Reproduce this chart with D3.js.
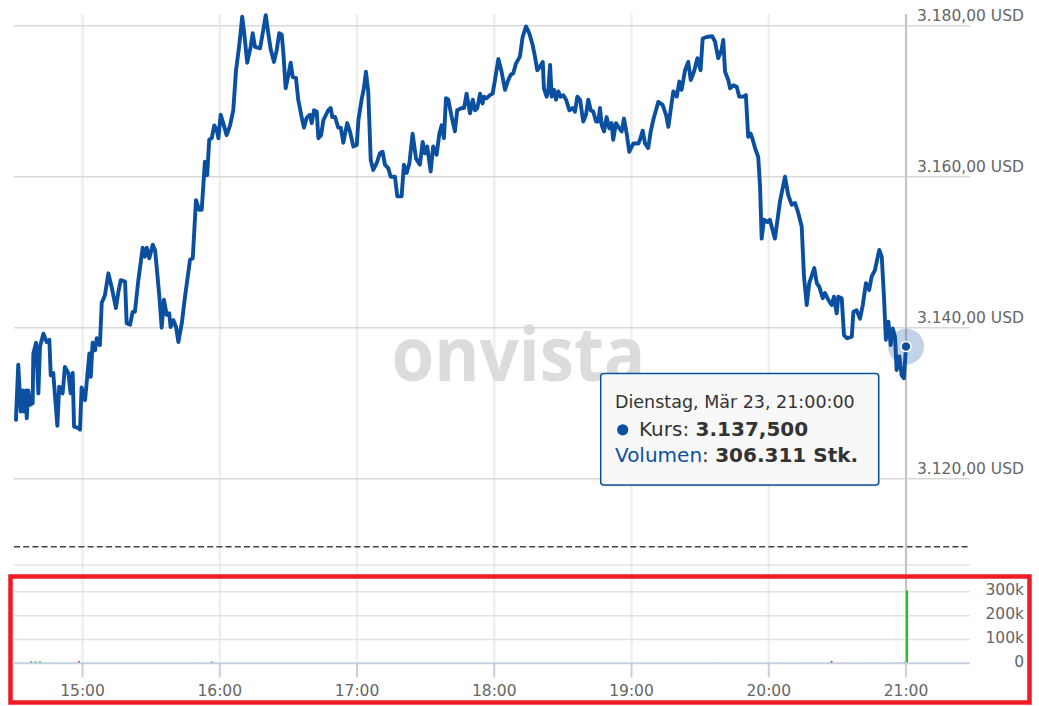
<!DOCTYPE html>
<html><head><meta charset="utf-8">
<script src="https://cdn.jsdelivr.net/npm/d3@7"></script>
<style>html,body{margin:0;padding:0;background:#fff}svg{display:block}</style>
</head><body>
<svg id="chart" width="1039" height="706"></svg>
<script>
// ---------- data ----------
const sessionStart = "2021-03-23T14:30:00";      // minutes below are counted from here
const minutes = [0.9,1.9,3.0,3.8,4.4,5.3,5.6,6.3,7.0,8.2,8.5,9.7,10.7,11.4,12.9,14.3,15.5,16.1,17.2,19.0,
19.8,21.3,22.3,23.8,24.8,25.7,26.3,28.2,28.9,29.6,31.1,33.0,33.6,34.4,35.5,36.2,37.6,38.4,39.8,41.3,
42.8,44.6,45.6,46.7,48.6,49.3,50.8,51.9,52.9,54.4,56.3,57.3,58.1,59.2,60.7,61.7,62.4,63.6,64.6,65.6,
66.8,67.9,68.5,69.7,70.9,71.9,73.4,74.8,76.2,77.0,78.2,79.6,81.0,82.1,83.5,84.5,85.4,86.5,87.6,88.7,
89.4,90.4,91.5,93.0,94.5,95.9,97.1,98.1,99.1,99.8,100.7,102.0,103.5,104.4,105.4,107.6,109.0,110.1,111.2,112.3,
113.7,114.9,116.0,117.1,117.8,118.8,120.0,121.0,121.9,123.3,124.3,125.8,126.8,128.0,129.4,130.2,131.2,132.4,133.1,134.3,
135.3,137.4,138.5,139.2,140.4,141.8,142.9,144.0,145.7,146.9,148.4,149.9,150.6,152.0,153.0,153.9,154.9,156.0,157.1,158.6,
160.0,161.2,162.2,163.7,164.7,166.6,167.6,169.5,170.5,171.7,172.9,174.3,175.8,177.5,178.7,179.7,180.7,182.2,183.3,184.8,
186.0,187.0,188.0,188.9,189.9,191.4,192.8,193.8,195.8,196.8,197.9,199.4,200.6,201.6,202.6,203.8,204.9,205.5,206.7,208.1,
209.3,210.3,211.8,213.2,214.7,216.1,217.2,218.3,219.5,221.2,222.4,223.9,225.3,226.8,227.8,228.8,230.0,231.2,231.7,232.9,
233.6,234.4,235.1,236.1,237.0,238.0,239.0,240.2,241.4,242.8,244.3,245.3,246.3,247.5,248.9,250.1,251.1,252.2,253.3,254.5,
255.5,256.2,257.0,258.0,259.1,260.3,261.3,262.0,263.2,264.2,265.7,266.7,267.9,269.0,270.8,273.0,273.7,274.9,275.9,277.3,
278.4,279.5,281.7,283.6,285.1,286.1,287.6,288.3,289.8,290.9,291.9,293.4,294.8,295.9,297.3,298.8,300.2,301.1,302.9,305.3,
306.5,307.9,309.4,310.1,310.9,312.3,313.1,314.5,316.0,317.1,318.9,320.0,321.0,322.1,323.0,324.0,325.4,326.2,326.9,327.9,
329.4,330.5,331.7,332.7,334.9,337.1,338.5,340.0,341.5,342.9,344.4,345.4,346.6,347.7,349.9,351.0,352.1,353.6,354.6,356.0,
357.5,358.5,359.7,360.4,361.9,362.9,364.3,366.3,367.0,368.4,369.9,371.1,372.5,373.9,375.0,376.4,378.3,379.4,380.4,381.2,
382.3,383.3,384.2,385.2,385.9,387.1,388.1,389.1,390.0];
const prices = [3127.8,3135.1,3128.9,3131.7,3128.9,3131.7,3128.0,3131.7,3129.8,3130.0,3136.6,3138.0,3131.3,3137.5,3139.2,3138.1,3138.4,3133.7,3134.0,3127.0,
3132.2,3131.3,3134.8,3134.0,3131.3,3134.0,3126.9,3126.7,3126.5,3132.1,3130.4,3136.6,3133.5,3138.0,3137.0,3138.6,3137.7,3143.3,3144.3,3147.2,
3145.3,3142.6,3144.6,3146.3,3146.1,3140.6,3140.4,3142.1,3142.1,3146.3,3150.6,3149.4,3150.6,3149.2,3151.0,3150.3,3148.1,3144.1,3140.0,3143.7,
3141.7,3141.9,3140.1,3141.0,3140.1,3138.1,3140.6,3144.1,3147.2,3149.0,3149.2,3156.9,3155.6,3155.6,3162.0,3160.2,3164.9,3165.1,3166.8,3166.2,
3165.1,3168.2,3167.1,3165.5,3166.8,3168.8,3174.1,3176.4,3179.0,3181.2,3179.0,3175.1,3177.2,3179.0,3177.2,3177.0,3179.4,3181.4,3179.0,3176.8,
3175.2,3176.8,3179.0,3178.8,3176.4,3171.7,3173.5,3175.1,3173.2,3173.1,3170.2,3167.9,3166.5,3167.8,3168.2,3167.1,3168.8,3168.6,3165.1,3165.5,
3167.5,3168.8,3169.1,3167.9,3167.9,3166.5,3166.5,3164.5,3167.1,3166.0,3164.0,3164.2,3167.5,3170.2,3171.7,3173.9,3171.3,3162.2,3160.9,3161.8,
3163.1,3163.3,3161.6,3161.1,3160.0,3160.0,3157.4,3157.4,3161.6,3160.5,3161.8,3165.7,3162.4,3161.6,3164.6,3163.1,3164.0,3160.7,3164.0,3162.9,
3165.7,3166.8,3165.1,3170.4,3170.2,3167.9,3166.0,3168.8,3169.1,3169.1,3171.0,3168.4,3170.2,3168.8,3169.1,3171.0,3169.7,3170.6,3170.4,3170.8,
3171.0,3172.8,3175.6,3173.9,3171.5,3172.8,3173.5,3173.7,3175.0,3175.9,3178.5,3179.9,3179.0,3177.4,3175.9,3174.1,3174.6,3175.2,3171.7,3170.6,
3171.3,3174.8,3170.6,3171.5,3170.2,3171.3,3170.6,3170.8,3170.2,3168.8,3169.1,3168.6,3170.6,3170.2,3167.3,3168.2,3170.2,3168.8,3168.6,3167.3,
3167.3,3169.1,3166.8,3166.0,3167.9,3166.4,3167.1,3164.9,3167.1,3166.6,3166.0,3167.7,3165.7,3163.3,3164.4,3164.4,3164.9,3166.1,3164.4,3163.8,
3166.0,3167.5,3169.9,3169.5,3168.2,3166.6,3169.9,3171.3,3170.6,3172.6,3171.5,3174.1,3175.2,3172.8,3173.9,3175.7,3174.1,3178.3,3178.5,3178.6,
3177.9,3175.7,3176.8,3178.1,3173.9,3172.8,3171.7,3172.1,3171.9,3170.6,3170.6,3170.8,3165.3,3165.7,3164.9,3163.8,3162.6,3158.7,3151.8,3154.3,
3154.0,3154.3,3152.9,3151.8,3156.7,3160.0,3157.6,3156.3,3156.5,3155.2,3153.4,3146.8,3143.0,3145.9,3147.9,3145.9,3145.4,3143.9,3144.6,3143.7,
3143.0,3144.1,3141.9,3144.1,3143.9,3139.0,3138.6,3138.8,3142.1,3142.3,3141.2,3143.0,3145.9,3145.0,3146.8,3147.6,3150.3,3149.4,3143.9,3138.4,
3140.8,3137.7,3139.9,3138.8,3134.4,3136.2,3133.7,3133.3,3137.5];

// volume bars (minutes after session start, shares, direction of the bar)
const volMinutes = [1,3,5,7,9,11,14,17,22,28,33,40,47,55,62,70,80,86,92,100,112,125,140,160,175,200,215,230,250,270,290,305,320,335,345,350,354,357,362,367,372,377,382,386,389,390];
const volumes    = [1800,1500,1600,8500,8200,8600,1500,1700,1400,8800,1500,1300,1200,1500,1300,1400,1500,8000,1400,1300,1200,1300,1200,1200,1300,1200,1300,1200,1300,1400,1300,1500,1300,1500,1600,1700,1500,9500,1600,1500,1600,1700,1800,1700,6000,306311];
const volUp      = [1,0,0,1,1,1,0,0,1,0,1,0,1,1,0,1,0,1,0,1,0,1,0,0,1,0,1,0,0,1,0,0,1,0,1,0,0,0,0,1,0,0,0,0,0,1];

const priceTicks  = [3120, 3140, 3160, 3180];
const previousClose = 3111.0;
const timeTickLabels = ["15:00","16:00","17:00","18:00","19:00","20:00","21:00"];
const volumeTicks = [0, 100000, 200000, 300000];
const volumeTickLabels = ["0","100k","200k","300k"];

const tooltipHeader = "Dienstag, Mär 23, 21:00:00";
const hoverMinute = 390, hoverPrice = 3137.5, hoverVolume = 306311;

// ---------- setup ----------
const de = d3.formatLocale({decimal: ",", thousands: ".", grouping: [3], currency: ["", " USD"]});
const fmtAxis = de.format(",.2f"), fmt3 = de.format(",.3f"), fmtInt = de.format(",d");
const t0 = new Date(sessionStart);
const toTime = m => new Date(t0.getTime() + m * 60000);
const parseHM = s => { const [h, mi] = s.split(":").map(Number); const d = new Date(t0); d.setHours(h, mi, 0, 0); return d; };

const plotLeft = 14, plotRight = 970, plotTop = 14;
const x = d3.scaleTime().domain([toTime(0), toTime(390)]).range([13.9, 906]);
const y = d3.scaleLinear().domain([3120, 3180]).range([478.7, 25.7]);
const yv = d3.scaleLinear().domain([0, 300000]).range([663.3, 591.8]);
const volTop = 565;

const svg = d3.select("#chart");
const FONT = "'DejaVu Sans', Verdana, sans-serif";
const blue = "#0b50a0";

// vertical grid lines
svg.append("g").selectAll("line").data(timeTickLabels).join("line")
  .attr("x1", d => x(parseHM(d))).attr("x2", d => x(parseHM(d)))
  .attr("y1", plotTop).attr("y2", yv(0))
  .attr("stroke", "#efefef").attr("stroke-width", 2.5);

// watermark
svg.append("text").text("onvista")
  .attr("x", 391.5).attr("y", 381).attr("textLength", 254).attr("lengthAdjust", "spacingAndGlyphs")
  .attr("font-family", "'Open Sans', sans-serif").attr("font-weight", 700).attr("font-size", 75)
  .attr("fill", "#dcdcdc");

// price grid lines + labels
const gp = svg.append("g");
gp.selectAll("line").data(priceTicks).join("line")
  .attr("x1", plotLeft).attr("x2", plotRight)
  .attr("y1", d => y(d)).attr("y2", d => y(d))
  .attr("stroke", "#d9d9d9").attr("stroke-width", 1.5);
gp.selectAll("text").data(priceTicks).join("text")
  .attr("x", 1024).attr("y", d => y(d) - 4.3).attr("text-anchor", "end")
  .attr("font-family", FONT).attr("font-size", 15.5).attr("fill", "#666")
  .text(d => fmtAxis(d) + " USD");

// previous close dashed line
svg.append("line").attr("x1", plotLeft).attr("x2", plotRight)
  .attr("y1", y(previousClose)).attr("y2", y(previousClose))
  .attr("stroke", "#444").attr("stroke-width", 1.5).attr("stroke-dasharray", "6,3.2");

// volume pane grid
svg.append("line").attr("x1", plotLeft).attr("x2", plotRight).attr("y1", volTop).attr("y2", volTop)
  .attr("stroke", "#e3e3e3").attr("stroke-width", 1.5);
const gv = svg.append("g");
gv.selectAll("line").data(volumeTicks.slice(1)).join("line")
  .attr("x1", plotLeft).attr("x2", plotRight)
  .attr("y1", d => yv(d)).attr("y2", d => yv(d))
  .attr("stroke", "#e1e1e1").attr("stroke-width", 1.5);
gv.selectAll("text").data(volumeTicks).join("text")
  .attr("x", 1024).attr("y", (d, i) => yv(d) + 3.6).attr("text-anchor", "end")
  .attr("font-family", FONT).attr("font-size", 15.5).attr("fill", "#666")
  .text((d, i) => volumeTickLabels[i]);

// crosshair
svg.append("line").attr("x1", x(toTime(hoverMinute))).attr("x2", x(toTime(hoverMinute)))
  .attr("y1", plotTop).attr("y2", yv(0))
  .attr("stroke", "#c4c4c4").attr("stroke-width", 2);

// volume bars
svg.append("g").selectAll("rect").data(volMinutes).join("rect")
  .attr("x", d => x(toTime(d))).attr("width", 2)
  .attr("y", (d, i) => yv(volumes[i])).attr("height", (d, i) => yv(0) - yv(volumes[i]))
  .attr("fill", (d, i) => volUp[i] ? "#1fc21f" : "#d4202a");

// volume axis baseline + ticks
svg.append("line").attr("x1", plotLeft).attr("x2", plotRight).attr("y1", yv(0)).attr("y2", yv(0))
  .attr("stroke", "#c3d1e2").attr("stroke-width", 2);
svg.append("g").selectAll("line").data(timeTickLabels).join("line")
  .attr("x1", d => x(parseHM(d))).attr("x2", d => x(parseHM(d)))
  .attr("y1", yv(0)).attr("y2", yv(0) + 14)
  .attr("stroke", "#c3d1e2").attr("stroke-width", 2);
svg.append("g").selectAll("text").data(timeTickLabels).join("text")
  .attr("x", d => x(parseHM(d))).attr("y", 696).attr("text-anchor", "middle")
  .attr("font-family", FONT).attr("font-size", 15.5).attr("fill", "#666")
  .text(d => d);

// price line
const series = minutes.map((m, i) => ({t: toTime(m), p: prices[i]}));
svg.append("path").datum(series)
  .attr("d", d3.line().x(d => x(d.t)).y(d => y(d.p)))
  .attr("fill", "none").attr("stroke", blue).attr("stroke-width", 3.9)
  .attr("stroke-linejoin", "round").attr("stroke-linecap", "round");

// hover marker
const hx = x(toTime(hoverMinute)), hy = y(hoverPrice);
svg.append("circle").attr("cx", hx).attr("cy", hy).attr("r", 18).attr("fill", blue).attr("fill-opacity", 0.25);
svg.append("circle").attr("cx", hx).attr("cy", hy).attr("r", 5).attr("fill", blue).attr("stroke", "#fff").attr("stroke-width", 1.5);

// tooltip
const tt = svg.append("g");
tt.append("rect").attr("x", 602).attr("y", 375).attr("width", 278).attr("height", 112).attr("rx", 3)
  .attr("fill", "#000").attr("fill-opacity", 0.08);
tt.append("rect").attr("x", 600.7).attr("y", 373.5).attr("width", 278).attr("height", 111.5).attr("rx", 3)
  .attr("fill", "#f8f8f8").attr("stroke", blue).attr("stroke-width", 1.5);
tt.append("text").attr("x", 615).attr("y", 408).attr("font-family", FONT).attr("font-size", 17.5).attr("fill", "#333")
  .text(tooltipHeader);
tt.append("circle").attr("cx", 622.7).attr("cy", 429.8).attr("r", 5.6).attr("fill", blue);
const l2 = tt.append("text").attr("x", 639).attr("y", 436).attr("font-family", FONT).attr("font-size", 20).attr("fill", "#333");
l2.append("tspan").text("Kurs: ");
l2.append("tspan").attr("font-weight", "bold").text(fmt3(hoverPrice));
const l3 = tt.append("text").attr("x", 615).attr("y", 462).attr("font-family", FONT).attr("font-size", 20).attr("fill", "#333");
l3.append("tspan").attr("fill", blue).text("Volumen");
l3.append("tspan").text(": ");
l3.append("tspan").attr("font-weight", "bold").text(fmtInt(hoverVolume) + " Stk.");

// red highlight frame around the volume pane
svg.append("rect").attr("x", 10.5).attr("y", 576.5).attr("width", 1019).attr("height", 126)
  .attr("fill", "none").attr("stroke", "#ed1c24").attr("stroke-width", 4.5);
</script>
</body></html>
